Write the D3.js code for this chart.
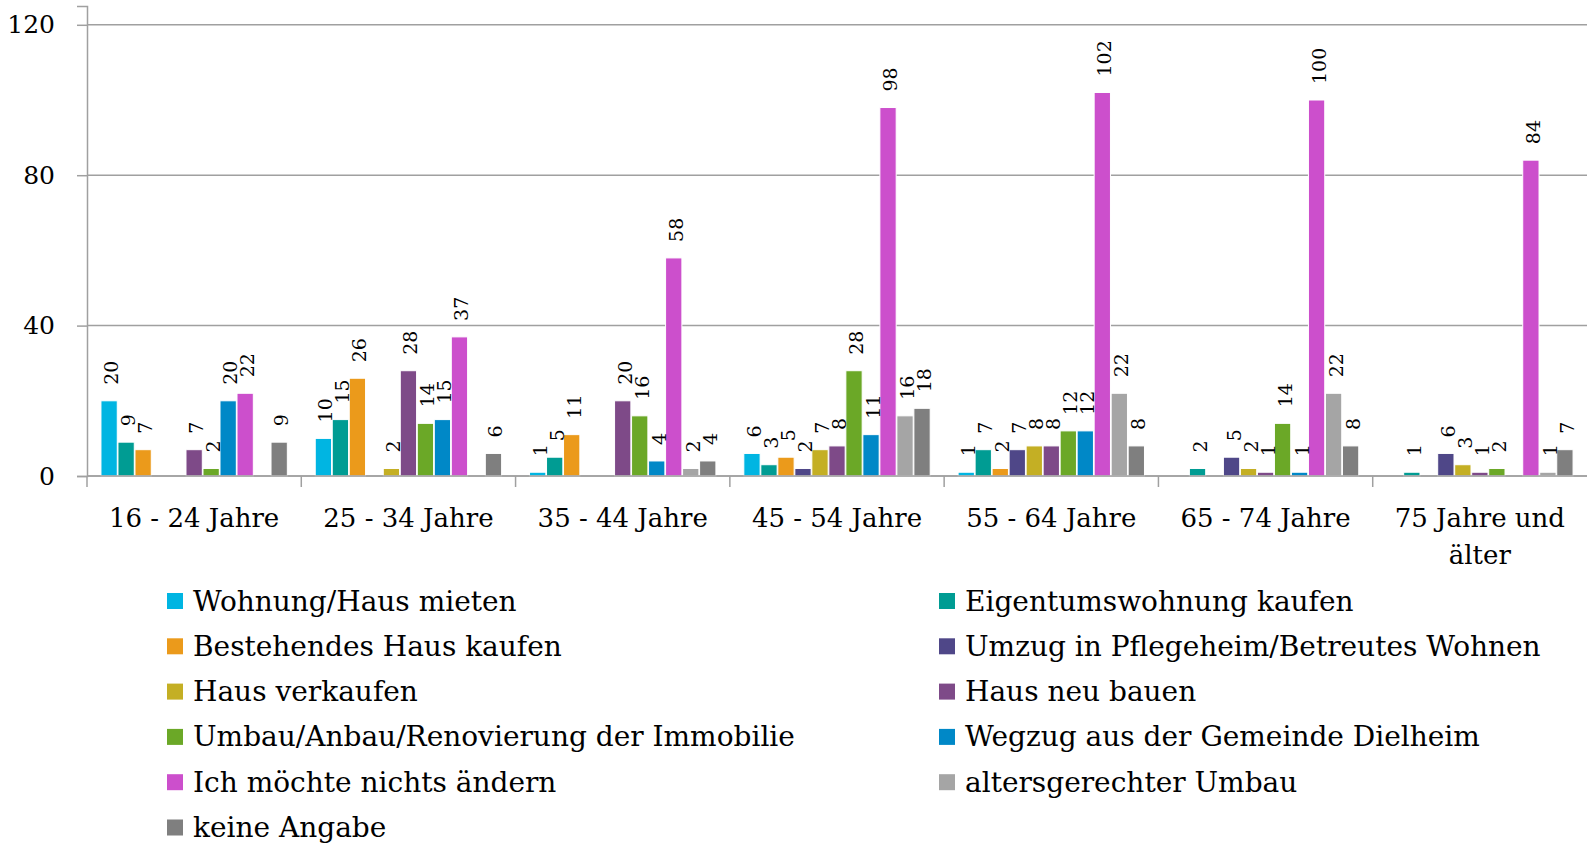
<!DOCTYPE html>
<html>
<head>
<meta charset="utf-8">
<script src="https://cdn.jsdelivr.net/npm/d3@7"></script>
<style>
  html, body { margin: 0; padding: 0; background: #fff; }
  svg { display: block; }
  text { font-family: "DejaVu Serif", serif; fill: #000; }
</style>
</head>
<body>
<svg id="chart" width="1587" height="843"></svg>
<script>
// ---- data ----
const categories = ["16 - 24 Jahre", "25 - 34 Jahre", "35 - 44 Jahre", "45 - 54 Jahre", "55 - 64 Jahre", "65 - 74 Jahre", "75 Jahre und älter"];
const seriesNames = [
  "Wohnung/Haus mieten",
  "Eigentumswohnung kaufen",
  "Bestehendes Haus kaufen",
  "Umzug in Pflegeheim/Betreutes Wohnen",
  "Haus verkaufen",
  "Haus neu bauen",
  "Umbau/Anbau/Renovierung der Immobilie",
  "Wegzug aus der Gemeinde Dielheim",
  "Ich möchte nichts ändern",
  "altersgerechter Umbau",
  "keine Angabe"
];
const seriesColors = ["#00B5E2", "#009C93", "#EB9A1B", "#4F4788", "#C4AF24", "#7E4A88", "#6BA827", "#0088C7", "#CC4FCC", "#A5A5A5", "#7F7F7F"];
const wohnungMieten        = [20, 10, 1, 6, 1, 0, 0];
const eigentumswohnung     = [9, 15, 5, 3, 7, 2, 1];
const bestehendesHaus      = [7, 26, 11, 5, 2, 0, 0];
const umzugPflegeheim      = [0, 0, 0, 2, 7, 5, 6];
const hausVerkaufen        = [0, 2, 0, 7, 8, 2, 3];
const hausNeuBauen         = [7, 28, 20, 8, 8, 1, 1];
const umbauAnbau           = [2, 14, 16, 28, 12, 14, 2];
const wegzug               = [20, 15, 4, 11, 12, 1, 0];
const nichtsAendern        = [22, 37, 58, 98, 102, 100, 84];
const altersgerecht        = [0, 0, 2, 16, 22, 22, 1];
const keineAngabe          = [9, 6, 4, 18, 8, 8, 7];
const seriesValues = [wohnungMieten, eigentumswohnung, bestehendesHaus, umzugPflegeheim, hausVerkaufen, hausNeuBauen, umbauAnbau, wegzug, nichtsAendern, altersgerecht, keineAngabe];
const yTicks = [0, 40, 80, 120];
const yMax = 125;

// ---- layout ----
const svg = d3.select("#chart");
const mLeft = 87, mRight = 1587, mTop = 6, mBottom = 476;

const x0 = d3.scaleBand().domain(categories).range([mLeft, mRight]).paddingInner(0).paddingOuter(0);
const x1 = d3.scaleBand().domain(d3.range(seriesNames.length)).range([0, x0.bandwidth()]).paddingInner(0.1).paddingOuter(0.85);
const y = d3.scaleLinear().domain([0, yMax]).range([mBottom, mTop]);

const gridColor = "#A0A0A0";

// gridlines
svg.append("g").selectAll("line").data(yTicks).join("line")
  .attr("x1", mLeft).attr("x2", mRight)
  .attr("y1", d => y(d)).attr("y2", d => y(d))
  .attr("stroke", gridColor).attr("stroke-width", 1.5);

// y axis
const yAxis = svg.append("g").attr("transform", `translate(${mLeft},0)`)
  .call(d3.axisLeft(y).tickValues(yTicks).tickSize(10).tickPadding(22).tickFormat(d3.format("d")));
yAxis.select(".domain").attr("stroke", gridColor).attr("stroke-width", 1.5);
yAxis.selectAll(".tick line").attr("stroke", gridColor).attr("stroke-width", 1.5);
yAxis.selectAll(".tick text").style("font-family", "'DejaVu Serif', serif").style("font-size", "25px").attr("fill", "#000");

// bars
const groups = svg.append("g").selectAll("g").data(categories).join("g")
  .attr("transform", d => `translate(${x0(d)},0)`);

groups.each(function(cat, ci) {
  const g = d3.select(this);
  const vals = seriesValues.map((s, si) => ({ si, v: s[ci] }));
  g.selectAll("rect").data(vals.filter(d => d.v > 0)).join("rect")
    .attr("x", d => x1(d.si) - 0.5)
    .attr("width", x1.bandwidth() + 1)
    .attr("y", d => y(d.v))
    .attr("height", d => y(0) - y(d.v))
    .attr("fill", d => seriesColors[d.si])
    .attr("stroke", "#fff").attr("stroke-width", 1);
  g.selectAll("text.lbl").data(vals.filter(d => d.v > 0)).join("text")
    .attr("class", "lbl")
    .attr("transform", d => `translate(${x1(d.si) + x1.bandwidth() / 2 + 2},${y(d.v) - 16}) rotate(-90)`)
    .attr("text-anchor", "start")
    .attr("dominant-baseline", "central")
    .style("font-size", "19px")
    .text(d => d.v);
});

// x axis (category boundaries)
const xAxisG = svg.append("g");
xAxisG.append("line").attr("x1", mLeft).attr("x2", mRight).attr("y1", mBottom).attr("y2", mBottom)
  .attr("stroke", gridColor).attr("stroke-width", 1.5);
xAxisG.selectAll("line.tk").data(categories).join("line").attr("class", "tk")
  .attr("x1", d => x0(d)).attr("x2", d => x0(d))
  .attr("y1", mBottom).attr("y2", mBottom + 11)
  .attr("stroke", gridColor).attr("stroke-width", 1.5);

// category labels with wrapping
const catFont = 26, catLine = 37;
const catLabels = xAxisG.selectAll("text.cat").data(categories).join("text").attr("class", "cat")
  .attr("x", d => x0(d) + x0.bandwidth() / 2)
  .attr("y", 527)
  .attr("text-anchor", "middle")
  .style("font-size", catFont + "px");
catLabels.each(function(d) {
  const t = d3.select(this);
  const words = d.split(" ");
  const maxW = x0.bandwidth() - 8;
  let lines = [], cur = [];
  const probe = t.append("tspan");
  words.forEach(w => {
    const test = cur.concat([w]).join(" ");
    probe.text(test);
    if (probe.node().getComputedTextLength() > maxW && cur.length) {
      lines.push(cur.join(" "));
      cur = [w];
    } else cur.push(w);
  });
  lines.push(cur.join(" "));
  probe.remove();
  lines.forEach((ln, i) => {
    t.append("tspan").attr("x", x0(d) + x0.bandwidth() / 2).attr("dy", i === 0 ? 0 : catLine).text(ln);
  });
});

// legend
const legCols = [167, 939], legRow0 = 601, legRowH = 45.3;
const leg = svg.append("g").selectAll("g").data(seriesNames).join("g")
  .attr("transform", (d, i) => `translate(${legCols[i % 2]},${legRow0 + Math.floor(i / 2) * legRowH})`);
leg.append("rect").attr("x", 0).attr("y", -8).attr("width", 16).attr("height", 16)
  .attr("fill", (d, i) => seriesColors[i]);
leg.append("text").attr("x", 26).attr("y", 0).attr("dominant-baseline", "central")
  .style("font-size", "28px").text(d => d);
</script>
</body>
</html>
